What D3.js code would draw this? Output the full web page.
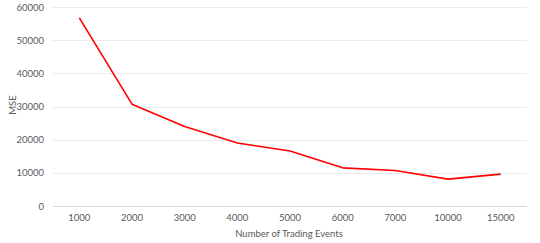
<!DOCTYPE html>
<html>
<head>
<meta charset="utf-8">
<script src="https://cdn.jsdelivr.net/npm/d3@7"></script>
<style>
  html, body { margin: 0; padding: 0; background: #fff; }
  svg { display: block; }
  text { font-family: Lato, "Open Sans", sans-serif; fill: #595959; }
</style>
</head>
<body>
<script>
const categories = ["1000", "2000", "3000", "4000", "5000", "6000", "7000", "10000", "15000"];
const mseValues = [56700, 30700, 24000, 19000, 16600, 11500, 10700, 8100, 9600];
const yTicks = [0, 10000, 20000, 30000, 40000, 50000, 60000];
const xTitle = "Number of Trading Events";
const yTitle = "MSE";

const W = 540, H = 243;
const margin = { left: 53, right: 13, top: 7, bottom: 37 };
const FONT = "Lato, 'Open Sans', sans-serif";
const FS = 9.5;

const svg = d3.select("body").append("svg").attr("width", W).attr("height", H);

const x = d3.scaleBand().domain(categories).range([margin.left, W - margin.right]);
const y = d3.scaleLinear().domain([0, 60000]).range([H - margin.bottom, margin.top]);

// gridlines
svg.append("g")
  .selectAll("line")
  .data(yTicks)
  .join("line")
  .attr("x1", margin.left).attr("x2", W - margin.right)
  .attr("y1", d => Math.round(y(d)) + 0.5).attr("y2", d => Math.round(y(d)) + 0.5)
  .attr("stroke", d => d === 0 ? "#d9d9d9" : "#ebebeb")
  .attr("stroke-width", 1);

// y axis labels
const yAxis = d3.axisLeft(y).tickValues(yTicks).tickSize(0).tickPadding(0).tickFormat(d3.format("d"));
const gy = svg.append("g").attr("transform", `translate(${margin.left - 9},0)`).call(yAxis);
gy.select(".domain").remove();
gy.selectAll("text").attr("font-size", FS).style("fill", "#595959").attr("font-family", FONT);

// x axis labels
const xAxis = d3.axisBottom(x).tickSize(0).tickPadding(0);
const gx = svg.append("g").attr("transform", `translate(0,${H - margin.bottom + 8.5})`).call(xAxis);
gx.select(".domain").remove();
gx.selectAll("text").attr("font-size", FS).style("fill", "#595959").attr("font-family", FONT);

// line
const line = d3.line()
  .x((d, i) => x(categories[i]) + x.bandwidth() / 2)
  .y(d => y(d));
svg.append("path")
  .datum(mseValues)
  .attr("d", line)
  .attr("fill", "none")
  .attr("stroke", "#ff0000")
  .attr("stroke-width", 1.6)
  .attr("stroke-linejoin", "round");

// titles
svg.append("text")
  .attr("x", 289)
  .attr("y", 236.5)
  .attr("text-anchor", "middle")
  .attr("font-size", FS)
  .attr("font-family", FONT)
  .text(xTitle);

svg.append("text")
  .attr("transform", `translate(15.5,${105}) rotate(-90)`)
  .attr("text-anchor", "middle")
  .attr("font-size", FS)
  .attr("font-family", FONT)
  .text(yTitle);
</script>
</body>
</html>
